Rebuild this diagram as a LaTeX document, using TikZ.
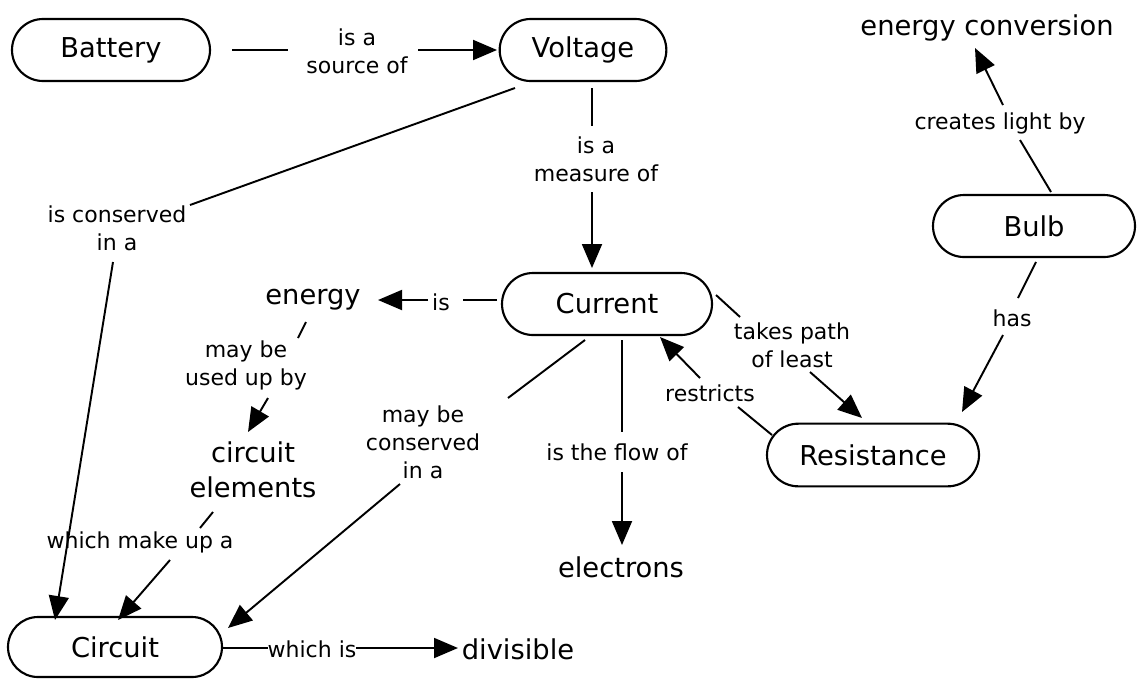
\documentclass[tikz,border=0pt]{standalone}
\usepackage{fontspec}
\setmainfont{DejaVu Sans}
\usetikzlibrary{shapes.misc,arrows.meta,calc}
\newcommand\cmnodefont{\fontsize{20.5}{26}\selectfont}
\newcommand\cmlblfont{\fontsize{16.5}{21}\selectfont}
\tikzset{
 concept/.style={draw,rounded rectangle,line width=1.6pt,inner sep=0pt,font=\cmnodefont},
 ctext/.style={inner sep=0pt,font=\cmnodefont,align=center},
 lbl/.style={inner sep=0pt,font=\cmlblfont,align=center},
 conn/.style={line width=1.45pt},
 arr/.style={conn,-{Triangle[length=18pt,width=15pt]}},
}
\begin{document}
\begin{tikzpicture}[x=0.75pt,y=-0.75pt]
\useasboundingbox[fill=white] (0,0) rectangle (1137,679);
% concepts
\node[concept,minimum width=148.5pt,minimum height=46.5pt] (battery) at (111,50) {Battery};
\node[concept,minimum width=125pt,minimum height=46.5pt] (voltage) at (583,50) {Voltage};
\node[concept,minimum width=157.5pt,minimum height=46.5pt] (current) at (607,304) {Current};
\node[concept,minimum width=159pt,minimum height=47pt] (resistance) at (873,455) {Resistance};
\node[concept,minimum width=151.5pt,minimum height=46.5pt] (bulb) at (1034,226) {Bulb};
\node[concept,minimum width=160.5pt,minimum height=45pt] (circuit) at (115,647) {Circuit};
\node[ctext] (energy) at (313,300) {energy};
\node[ctext] (celem) at (253,470) {circuit\\elements};
\node[ctext] (electrons) at (621,567) {electrons};
\node[ctext] (econv) at (987,28) {energy conversion};
\node[ctext] (divisible) at (518,649) {divisible};
% labels
\node[lbl] (l1) at (357,51) {is a\\source of};
\node[lbl] (l2) at (117,228) {is conserved\\in a};
\node[lbl] (l3) at (596,159) {is a\\measure of};
\node[lbl] (l4) at (441,302) {is};
\node[lbl] (l5) at (246,365) {may be\\used up by};
\node[lbl] (l6) at (140,542) {which make up a};
\node[lbl] (l7) at (423,442) {may be\\conserved\\in a};
\node[lbl] (l8) at (617,452) {is the flow of};
\node[lbl] (l9) at (792,345) {takes path\\of least};
\node[lbl] (l10) at (710,393) {restricts};
\node[lbl] (l11) at (1000,123) {creates light by};
\node[lbl] (l12) at (1012,318) {has};
\node[lbl] (l13) at (312,649) {which is};
% connectors
\draw[conn] ($(battery)+(121,0)$) -- ($(l1)+(-69,-1)$);
\draw[arr]  ($(l1)+(61,-1)$) -- ($(voltage)+(-86,0)$);
\draw[conn] ($(voltage)+(-68,38)$) -- ($(l2)+(73,-23)$);
\draw[arr]  ($(l2)+(-4,34)$) -- ($(circuit)+(-60,-27)$);
\draw[conn] ($(voltage)+(9,38)$) -- ($(l3)+(-4,-33)$);
\draw[arr]  ($(l3)+(-4,33)$) -- ($(current)+(-15,-36)$);
\draw[conn] ($(current)+(-110,-4)$) -- ($(l4)+(22,-2)$);
\draw[arr]  ($(l4)+(-13,-2)$) -- ($(energy)+(65,0)$);
\draw[conn] ($(energy)+(-7,22)$) -- ($(l5)+(52,-27)$);
\draw[arr]  ($(l5)+(22,33)$) -- ($(celem)+(-5,-38)$);
\draw[conn] ($(celem)+(-40,42)$) -- ($(l6)+(60,-14)$);
\draw[arr]  ($(l6)+(30,18)$) -- ($(circuit)+(3,-27)$);
\draw[conn] ($(current)+(-22,36)$) -- ($(l7)+(85,-44)$);
\draw[arr]  ($(l7)+(-23,42)$) -- ($(circuit)+(113,-19)$);
\draw[conn] ($(current)+(15,36)$) -- ($(l8)+(5,-20)$);
\draw[arr]  ($(l8)+(5,20)$) -- ($(electrons)+(1,-22)$);
\draw[conn] ($(current)+(109,-9)$) -- ($(l9)+(-52,-28)$);
\draw[arr]  ($(l9)+(18,27)$) -- ($(resistance)+(-11,-37)$);
\draw[conn] ($(resistance)+(-101,-20)$) -- ($(l10)+(28,14)$);
\draw[arr]  ($(l10)+(-10,-15)$) -- ($(current)+(53,33)$);
\draw[conn] ($(bulb)+(17,-34)$) -- ($(l11)+(20,17)$);
\draw[arr]  ($(l11)+(3,-18)$) -- ($(econv)+(-12,20)$);
\draw[conn] ($(bulb)+(2,36)$) -- ($(l12)+(6,-20)$);
\draw[arr]  ($(l12)+(-9,17)$) -- ($(resistance)+(89,-43)$);
\draw[conn] ($(circuit)+(107,1)$) -- ($(l13)+(-44,-1)$);
\draw[arr]  ($(l13)+(44,-1)$) -- ($(divisible)+(-60,-1)$);
\end{tikzpicture}
\end{document}
